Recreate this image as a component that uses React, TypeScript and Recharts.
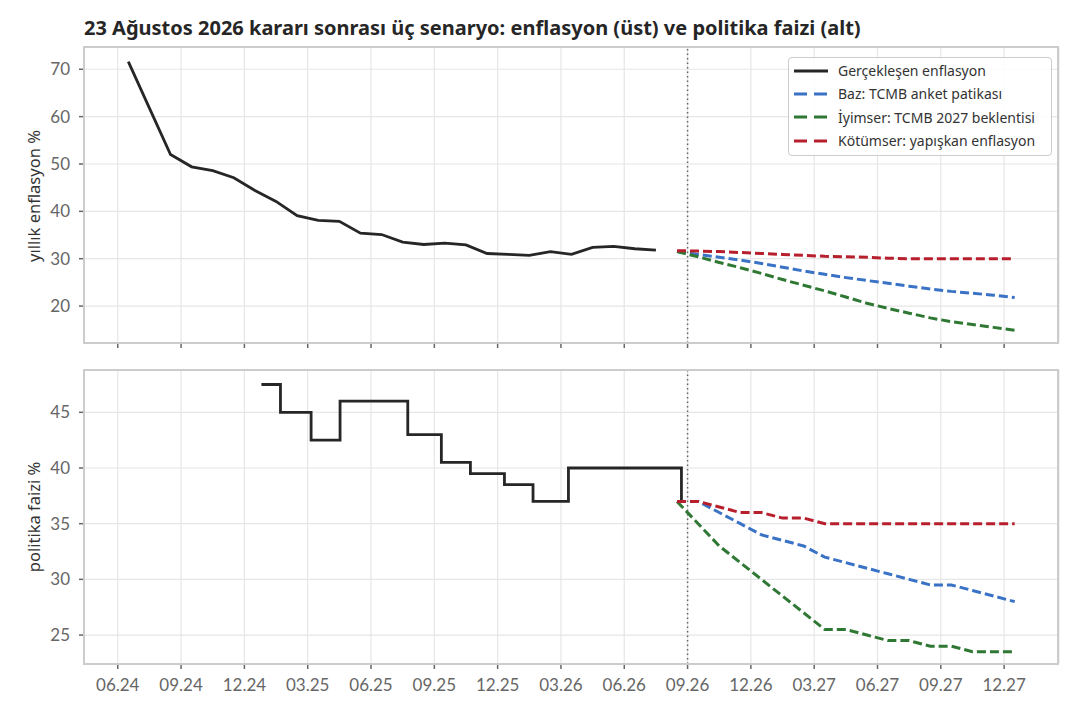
import React from 'react';
import { LineChart, Line, XAxis, YAxis, CartesianGrid, ReferenceLine } from 'recharts';

// month index: 0 = Jan 2024
const monthIndex = (ym: string) => {
  const [y, m, d] = ym.split('-').map(Number);
  const base = (y - 2024) * 12 + (m - 1);
  if (!d) return base + 0.5; // mid-month points
  const daysInMonth = new Date(y, m, 0).getDate();
  return base + (d - 1) / daysInMonth;
};

const xTickLabels = [
  '06.24', '09.24', '12.24', '03.25', '06.25', '09.25', '12.25', '03.26',
  '06.26', '09.26', '12.26', '03.27', '06.27', '09.27', '12.27',
];
const xTicks = xTickLabels.map((t) => {
  const [m, y] = t.split('.').map(Number);
  return (2000 + y - 2024) * 12 + (m - 1);
});
const xDomain = [3.4, 49.6];
const decisionX = monthIndex('2026-09-01');

// annual CPI, monthly, Jun 2024 .. Jul 2026
const actualStart = '2024-06';
const actualInflation = [
  71.6, 61.8, 52.0, 49.4, 48.6, 47.1, 44.4, 42.1, 39.1, 38.1, 37.9, 35.4, 35.1,
  33.5, 33.0, 33.3, 32.9, 31.1, 30.9, 30.7, 31.5, 30.9, 32.4, 32.6, 32.1, 31.8,
];

// scenarios, monthly, Aug 2026 .. Dec 2027
const forecastStart = '2026-08';
const baseInflation = [
  31.5, 30.9, 30.3, 29.7, 29.0, 28.2, 27.4, 26.7, 26.0, 25.4, 24.8, 24.2, 23.6,
  23.1, 22.7, 22.3, 21.8,
];
const optInflation = [
  31.5, 30.4, 29.2, 28.1, 26.9, 25.6, 24.4, 23.2, 21.9, 20.6, 19.5, 18.5, 17.5,
  16.7, 16.1, 15.5, 14.9,
];
const pesInflation = [
  31.7, 31.6, 31.5, 31.3, 31.1, 30.9, 30.7, 30.5, 30.4, 30.3, 30.1, 30.0, 30.0,
  30.0, 30.0, 30.0, 30.0,
];

// policy rate decisions
const rateDates = [
  '2024-12-26', '2025-01-23', '2025-03-06', '2025-04-17', '2025-07-24',
  '2025-09-11', '2025-10-23', '2025-12-11', '2026-01-22', '2026-03-12', '2026-08-23',
];
const rateValues = [47.5, 45, 42.5, 46, 43, 40.5, 39.5, 38.5, 37, 40, 37];

const baseRate = [37, 37, 36, 35, 34, 33.5, 33, 32, 31.5, 31, 30.5, 30, 29.5, 29.5, 29, 28.5, 28];
const optRate = [37, 35, 33, 31.5, 30, 28.5, 27, 25.5, 25.5, 25, 24.5, 24.5, 24, 24, 23.5, 23.5, 23.5];
const pesRate = [37, 37, 36.5, 36, 36, 35.5, 35.5, 35, 35, 35, 35, 35, 35, 35, 35, 35, 35];

const seriesMeta = [
  { name: 'Gerçekleşen enflasyon', color: '#262626', dash: undefined },
  { name: 'Baz: TCMB anket patikası', color: '#3a72c6', dash: '9 4' },
  { name: 'İyimser: TCMB 2027 beklentisi', color: '#2f7834', dash: '9 4' },
  { name: 'Kötümser: yapışkan enflasyon', color: '#b81f2d', dash: '9 4' },
];

const monthly = (start: string, values: number[]) => {
  const s = monthIndex(start);
  return values.map((v, i) => ({ x: s + i, y: v }));
};

const actualData = monthly(actualStart, actualInflation);
const baseData = monthly(forecastStart, baseInflation);
const optData = monthly(forecastStart, optInflation);
const pesData = monthly(forecastStart, pesInflation);
const rateData = rateDates.map((d, i) => ({ x: monthIndex(d), y: rateValues[i] }));
const baseRateData = monthly(forecastStart, baseRate);
const optRateData = monthly(forecastStart, optRate);
const pesRateData = monthly(forecastStart, pesRate);

const tickFont = { fontFamily: 'Lato', fontSize: 17, fill: '#666' };
const gridColor = '#e6e6e6';
const frameColor = '#cccccc';

const Frame = ({ top, height }: { top: number; height: number }) => (
  <div
    style={{
      position: 'absolute',
      left: 83,
      top,
      width: 976,
      height,
      border: `2px solid ${frameColor}`,
      boxSizing: 'border-box',
      pointerEvents: 'none',
    }}
  />
);

const AxisTitle = ({ text, cy }: { text: string; cy: number }) => (
  <div
    style={{
      position: 'absolute',
      left: 33,
      top: cy,
      transform: 'translate(-50%, -50%) rotate(-90deg)',
      whiteSpace: 'nowrap',
      fontFamily: 'Noto Sans',
      fontSize: 16.5,
      color: '#333',
    }}
  >
    {text}
  </div>
);

const LegendBox = () => (
  <div
    style={{
      position: 'absolute',
      left: 788,
      top: 57,
      width: 264,
      height: 99,
      border: '1.5px solid #cccccc',
      borderRadius: 4,
      background: 'rgba(255,255,255,0.85)',
      boxSizing: 'border-box',
      padding: '1px 0 0 5px',
      fontFamily: 'Noto Sans',
      fontSize: 14,
      color: '#333',
    }}
  >
    {seriesMeta.map((s) => (
      <div key={s.name} style={{ display: 'flex', alignItems: 'center', height: 23.3 }}>
        <svg width={34} height={10} style={{ marginRight: 10 }}>
          <line x1={0} y1={5} x2={34} y2={5} stroke={s.color} strokeWidth={3} strokeDasharray={s.dash ? '13 7' : undefined} />
        </svg>
        <span>{s.name}</span>
      </div>
    ))}
  </div>
);

const lineProps = (i: number) => ({
  stroke: seriesMeta[i].color,
  strokeWidth: i === 0 ? 2.8 : 3,
  strokeDasharray: seriesMeta[i].dash,
  dot: false,
  activeDot: false,
  isAnimationActive: false,
  dataKey: 'y',
});

export default function App() {
  return (
    <div style={{ position: 'absolute', left: 0, top: 0, width: 1080, height: 720, background: '#fff' }}>
      <div
        style={{
          position: 'absolute',
          left: 84,
          top: 14,
          fontFamily: 'Noto Sans',
          fontWeight: 700,
          fontSize: 20,
          color: '#262626',
          whiteSpace: 'nowrap',
        }}
      >
        23 Ağustos 2026 kararı sonrası üç senaryo: enflasyon (üst) ve politika faizi (alt)
      </div>

      <div style={{ position: 'absolute', left: 0, top: 0 }}>
        <LineChart width={1080} height={360} margin={{ top: 47, right: 21, left: 0, bottom: 0 }}>
          <CartesianGrid stroke={gridColor} strokeWidth={1.2} />
          <XAxis
            type="number"
            dataKey="x"
            domain={xDomain}
            ticks={xTicks}
            allowDataOverflow
            height={17}
            axisLine={false}
            tickLine={{ stroke: '#666', strokeWidth: 1.5 }}
            tickSize={5}
            tickFormatter={() => ''}
          />
          <YAxis
            type="number"
            domain={[12.2, 74.7]}
            ticks={[20, 30, 40, 50, 60, 70]}
            allowDataOverflow
            width={84}
            axisLine={false}
            tickLine={{ stroke: '#666', strokeWidth: 1.5 }}
            tickSize={5}
            tickMargin={9}
            tick={tickFont}
          />
          <ReferenceLine x={decisionX} stroke="#666" strokeWidth={1.5} strokeDasharray="1.5 3" />
          <Line data={actualData} {...lineProps(0)} type="linear" />
          <Line data={baseData} {...lineProps(1)} type="linear" />
          <Line data={optData} {...lineProps(2)} type="linear" />
          <Line data={pesData} {...lineProps(3)} type="linear" />
        </LineChart>
      </div>

      <div style={{ position: 'absolute', left: 0, top: 360 }}>
        <LineChart width={1080} height={360} margin={{ top: 10, right: 21, left: 0, bottom: 16 }}>
          <CartesianGrid stroke={gridColor} strokeWidth={1.2} />
          <XAxis
            type="number"
            dataKey="x"
            domain={xDomain}
            ticks={xTicks}
            allowDataOverflow
            height={40}
            axisLine={false}
            tickLine={{ stroke: '#666', strokeWidth: 1.5 }}
            tickSize={5}
            tickMargin={10}
            tick={tickFont}
            tickFormatter={(v: number) => xTickLabels[xTicks.indexOf(v)] ?? ''}
          />
          <YAxis
            type="number"
            domain={[22.4, 48.8]}
            ticks={[25, 30, 35, 40, 45]}
            allowDataOverflow
            width={84}
            axisLine={false}
            tickLine={{ stroke: '#666', strokeWidth: 1.5 }}
            tickSize={5}
            tickMargin={9}
            tick={tickFont}
          />
          <ReferenceLine x={decisionX} stroke="#666" strokeWidth={1.5} strokeDasharray="1.5 3" />
          <Line data={rateData} {...lineProps(0)} type="stepAfter" />
          <Line data={baseRateData} {...lineProps(1)} type="linear" />
          <Line data={optRateData} {...lineProps(2)} type="linear" />
          <Line data={pesRateData} {...lineProps(3)} type="linear" />
        </LineChart>
      </div>

      <Frame top={46} height={298} />
      <Frame top={369} height={296} />
      <AxisTitle text="yıllık enflasyon %" cy={196} />
      <AxisTitle text="politika faizi %" cy={517} />
      <LegendBox />
    </div>
  );
}
